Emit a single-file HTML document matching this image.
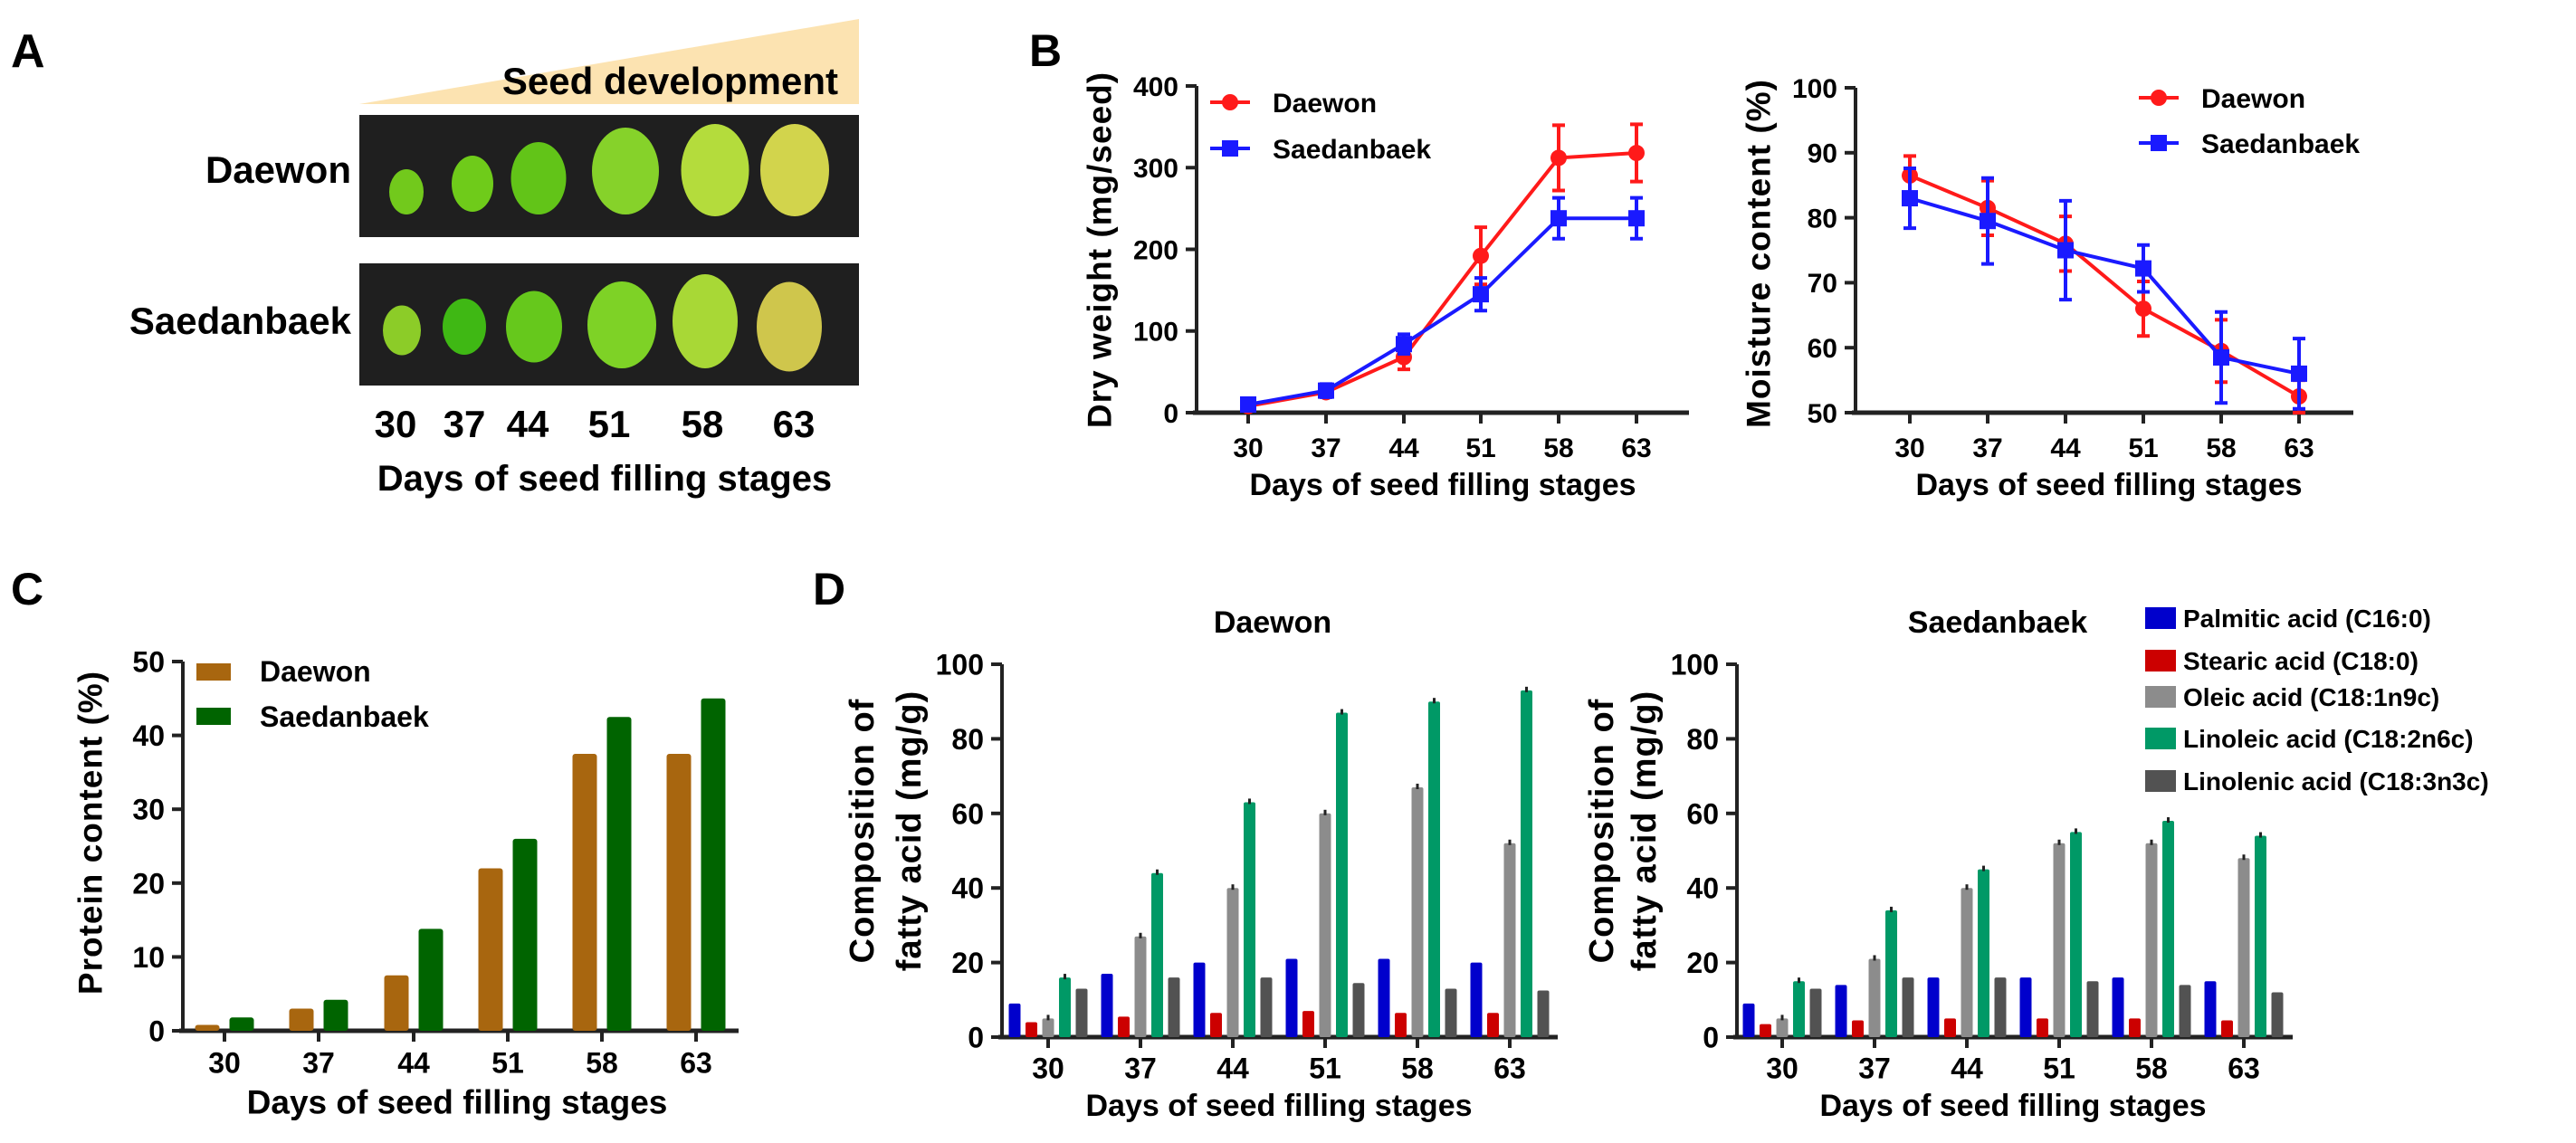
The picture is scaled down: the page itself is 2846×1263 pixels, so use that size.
<!DOCTYPE html>
<html><head><meta charset="utf-8">
<style>
html,body{margin:0;padding:0;background:#fff;}
svg{display:block;font-family:"Liberation Sans",Arial,sans-serif;font-weight:bold;}
</style></head>
<body>
<svg id="fig" width="2846" height="1263" viewBox="0 0 2846 1263" xmlns="http://www.w3.org/2000/svg">
<rect width="2846" height="1263" fill="#fff"/>
<!-- Panel A -->
<g id="panelA">
<text x="12" y="74" font-size="52">A</text>
<polygon points="397,115 949,21 949,115" fill="#fce3b1"/>
<text x="926" y="104" font-size="42" text-anchor="end">Seed development</text>
<rect x="397" y="127" width="552" height="135" fill="#1f1f1f"/>
<rect x="397" y="291" width="552" height="135" fill="#1f1f1f"/>
<text x="388" y="202" font-size="42" text-anchor="end">Daewon</text>
<text x="388" y="369" font-size="42" text-anchor="end">Saedanbaek</text>
<g id="seeds"></g>
<g id="aTicks" font-size="42" text-anchor="middle"></g>
<text x="668" y="542" font-size="40" text-anchor="middle">Days of seed filling stages</text>
</g>
<text x="1137" y="73" font-size="50">B</text>
<text x="12" y="668" font-size="50">C</text>
<text x="898" y="668" font-size="50">D</text>
<g id="dynamic"></g>
</svg>
<script>
// ---------- DATA ----------
const days = ["30","37","44","51","58","63"];
// Panel B: dry weight
const dwDaewon = [8, 25, 68, 192, 312, 318];
const dwDaewonErr = [5, 5, 15, 35, 40, 35];
const dwSaedan = [10, 27, 84, 145, 238, 238];
const dwSaedanErr = [6, 8, 12, 20, 25, 25];
const dwTicks = [0, 100, 200, 300, 400];
// Panel B: moisture
const mcDaewon = [86.5, 81.5, 76, 66, 59.5, 52.5];
const mcDaewonErr = [3, 4.2, 4.2, 4.2, 4.8, 2.5];
const mcSaedan = [83, 79.5, 75, 72.2, 58.5, 56];
const mcSaedanErr = [4.6, 6.6, 7.6, 3.6, 7, 5.4];
const mcTicks = [50, 60, 70, 80, 90, 100];
// Panel C: protein
const protDaewon = [0.8, 3, 7.5, 22, 37.5, 37.5];
const protSaedan = [1.8, 4.2, 13.8, 26, 42.5, 45];
const protTicks = [0, 10, 20, 30, 40, 50];
// Panel D: fatty acids
const faNames = ["Palmitic acid (C16:0)","Stearic acid (C18:0)","Oleic acid (C18:1n9c)","Linoleic acid (C18:2n6c)","Linolenic acid (C18:3n3c)"];
const faDaewonPalmitic = [9, 17, 20, 21, 21, 20];
const faDaewonStearic = [4, 5.5, 6.5, 7, 6.5, 6.5];
const faDaewonOleic = [5, 27, 40, 60, 67, 52];
const faDaewonLinoleic = [16, 44, 63, 87, 90, 93];
const faDaewonLinolenic = [13, 16, 16, 14.5, 13, 12.5];
const faSaedanPalmitic = [9, 14, 16, 16, 16, 15];
const faSaedanStearic = [3.5, 4.5, 5, 5, 5, 4.5];
const faSaedanOleic = [5, 21, 40, 52, 52, 48];
const faSaedanLinoleic = [15, 34, 45, 55, 58, 54];
const faSaedanLinolenic = [13, 16, 16, 15, 14, 12];
const faTicks = [0, 20, 40, 60, 80, 100];

const NS = "http://www.w3.org/2000/svg";
const root = document.getElementById('dynamic');
function mk(tag, attrs, parent, txt){
  const e = document.createElementNS(NS, tag);
  for (const k in attrs) e.setAttribute(k, attrs[k]);
  if (txt !== undefined) e.textContent = txt;
  (parent || root).appendChild(e);
  return e;
}
function grp(name){
  const g = mk('g', {});
  
  
  return g;
}

// ---------- Panel A seeds ----------
const seedG = document.getElementById('seeds');
const seedsD = [[449,212,38,50,'#72c91c'],[522,203,46,62,'#6fcb1a'],[595,197,61,80,'#62c418'],[691,189,74,96,'#86d22a'],[790,188,75,102,'#b4dc3c'],[878,188,76,102,'#d2d44c']];
const seedsS = [[444,365,42,55,'#8ccc28'],[513,361,48,62,'#3fb814'],[590,361,62,79,'#66c81c'],[687,359,76,96,'#7ed226'],[779,355,72,104,'#a8d836'],[872,361,72,99,'#cfc64c']];
[seedsD, seedsS].forEach((arr, r) => arr.forEach((s, i) => {
  const e = mk('ellipse', {cx:s[0], cy:s[1], rx:s[2]/2, ry:s[3]/2, fill:s[4]}, seedG);
  
  
}));
const aTickX = [437, 513, 583, 673, 776, 877];
const aT = document.getElementById('aTicks');
days.forEach((d, i) => {
  const t = mk('text', {x:aTickX[i], y:483}, aT, d);
  
  
});

// ---------- generic axes ----------
function axes(g, o){
  // o: x0, x1, yTop, yBase, vmin, vmax, ticks, tickX, tickFs, ylabX, ylabLines, ylabFs, xTickY, titleY, titleFs, xTickFs
  const ys = v => o.yBase - (v - o.vmin) / (o.vmax - o.vmin) * (o.yBase - o.yTop);
  const ya = mk('line', {x1:o.x0, y1:o.yTop, x2:o.x0, y2:o.yBase, stroke:'#222', 'stroke-width':4}, g);
  
  
  const xa = mk('line', {x1:o.x0 - 4, y1:o.yBase, x2:o.x1, y2:o.yBase, stroke:'#222', 'stroke-width':5}, g);
  
  
  o.ticks.forEach(v => {
    mk('line', {x1:o.x0 - 12, y1:ys(v), x2:o.x0, y2:ys(v), stroke:'#222', 'stroke-width':4}, g);
    const t = mk('text', {x:o.x0 - 20, y:ys(v) + o.tickFs * 0.36, 'font-size':o.tickFs, 'text-anchor':'end'}, g, String(v));
    
    
  });
  o.tickX.forEach((x, i) => {
    mk('line', {x1:x, y1:o.yBase, x2:x, y2:o.yBase + 12, stroke:'#222', 'stroke-width':4}, g);
    const t = mk('text', {x:x, y:o.xTickY + o.xTickFs * 0.36, 'font-size':o.xTickFs, 'text-anchor':'middle'}, g, days[i]);
    
    
  });
  const tt = mk('text', {x:o.titleX, y:o.titleY + o.titleFs * 0.36, 'font-size':o.titleFs, 'text-anchor':'middle'}, g, 'Days of seed filling stages');
  
  
  o.ylabLines.forEach((ln, i) => {
    const x = o.ylabX[i];
    const t = mk('text', {x:x, y:o.ylabY, 'font-size':o.ylabFs, 'text-anchor':'middle', 'letter-spacing':'1', transform:`rotate(-90 ${x} ${o.ylabY})`, 'dominant-baseline':'central'}, g, ln);
    
    
  });
  return ys;
}

// ---------- Panel B line charts ----------
function lineChart(name, o, sA, eA, sB, eB, legX, legY){
  const g = grp(name);
  const ys = axes(g, o);
  const series = [[sA, eA, '#ff1a1a', 'circle', 'Daewon'], [sB, eB, '#1a1aff', 'square', 'Saedanbaek']];
  series.forEach((s, k) => {
    const pts = s[0].map((v, i) => o.tickX[i] + ',' + ys(v)).join(' ');
    const pl = mk('polyline', {points:pts, fill:'none', stroke:s[2], 'stroke-width':4}, g);
    
    
    s[0].forEach((v, i) => {
      const x = o.tickX[i], y1 = ys(v + s[1][i]), y2 = ys(v - s[1][i]);
      const eb = mk('path', {d:`M${x},${y1}V${y2}M${x-7},${y1}H${x+7}M${x-7},${y2}H${x+7}`, stroke:s[2], 'stroke-width':4, fill:'none'}, g);
      
      
      let m;
      if (s[3] === 'circle') m = mk('circle', {cx:x, cy:ys(v), r:9, fill:s[2]}, g);
      else m = mk('rect', {x:x - 9, y:ys(v) - 9, width:18, height:18, fill:s[2]}, g);
      
      
    });
    const ly = legY[k];
    const le = mk('line', {x1:legX - 22, y1:ly, x2:legX + 22, y2:ly, stroke:s[2], 'stroke-width':4}, g);
    
    
    if (s[3] === 'circle') mk('circle', {cx:legX, cy:ly, r:9, fill:s[2]}, g);
    else mk('rect', {x:legX - 9, y:ly - 9, width:18, height:18, fill:s[2]}, g);
    const lt = mk('text', {x:legX + 47, y:ly + 11, 'font-size':30}, g, s[4]);
    
    
  });
}
lineChart('dry-weight-chart', {x0:1322, x1:1866, yTop:95, yBase:456, vmin:0, vmax:400, ticks:dwTicks,
  tickX:[1379,1465,1551,1636,1722,1808], tickFs:30, xTickFs:30, xTickY:494, titleX:1594, titleY:535, titleFs:34,
  ylabX:[1215], ylabY:276, ylabLines:['Dry weight (mg/seed)'], ylabFs:37},
  dwDaewon, dwDaewonErr, dwSaedan, dwSaedanErr, 1359, [113, 164]);
lineChart('moisture-chart', {x0:2050, x1:2600, yTop:97, yBase:456, vmin:50, vmax:100, ticks:mcTicks,
  tickX:[2110,2196,2282,2368,2454,2540], tickFs:30, xTickFs:30, xTickY:494, titleX:2330, titleY:535, titleFs:34,
  ylabX:[1943], ylabY:280, ylabLines:['Moisture content (%)'], ylabFs:37},
  mcDaewon, mcDaewonErr, mcSaedan, mcSaedanErr, 2385, [108, 158]);

// ---------- Panel C ----------
(function(){
  const g = grp('protein-chart');
  const o = {x0:202, x1:816, yTop:731, yBase:1139, vmin:0, vmax:50, ticks:protTicks,
    tickX:[248,352,457,561,665,769], tickFs:32, xTickFs:32, xTickY:1174, titleX:505, titleY:1217, titleFs:37,
    ylabX:[100], ylabY:920, ylabLines:['Protein content (%)'], ylabFs:37};
  const ys = axes(g, o);
  const cols = ['#a8660f', '#006400'];
  const names = ['Daewon', 'Saedanbaek'];
  [protDaewon, protSaedan].forEach((arr, k) => {
    arr.forEach((v, i) => {
      const cx = o.tickX[i] + (k ? 19 : -19);
      const b = mk('rect', {x:cx - 13.5, y:ys(v), width:27, height:o.yBase - ys(v), fill:cols[k], rx:3}, g);
      
      
    });
    const sw = mk('rect', {x:217, y:k ? 782 : 733, width:38, height:19, fill:cols[k]}, g);
    
    
    const t = mk('text', {x:287, y:k ? 803 : 753, 'font-size':32}, g, names[k]);
    
    
  });
})();

// ---------- Panel D ----------
const faColors = ['#0000cc', '#cc0000', '#8c8c8c', '#009966', '#525252'];
function faChart(name, title, titleX, x0, tickX, ylabX, series){
  const g = grp(name);
  const o = {x0:x0, x1:x0 + 614, yTop:734, yBase:1146, vmin:0, vmax:100, ticks:faTicks,
    tickX:tickX, tickFs:32, xTickFs:32, xTickY:1180, titleX:(tickX[0] + tickX[5]) / 2, titleY:1221, titleFs:34,
    ylabX:ylabX, ylabY:918, ylabLines:['Composition of', 'fatty acid (mg/g)'], ylabFs:38};
  const ys = axes(g, o);
  const tt = mk('text', {x:titleX, y:699, 'font-size':34, 'text-anchor':'middle'}, g, title);
  
  
  series.forEach((arr, k) => {
    arr.forEach((v, i) => {
      const cx = tickX[i] + (k - 2) * 18.5;
      const b = mk('rect', {x:cx - 6.5, y:ys(v), width:13, height:o.yBase - ys(v), fill:faColors[k], rx:2}, g);
      
      
      if (k === 3 || k === 2) {
        const e = mk('line', {x1:cx, y1:ys(v) - 4, x2:cx, y2:ys(v) + 2, stroke:'#222', 'stroke-width':3}, g);
        
        
      }
    });
  });
}
faChart('fatty-acid-daewon-chart', 'Daewon', 1406, 1107, [1158,1260,1362,1464,1566,1668], [953, 1005],
  [faDaewonPalmitic, faDaewonStearic, faDaewonOleic, faDaewonLinoleic, faDaewonLinolenic]);
faChart('fatty-acid-saedanbaek-chart', 'Saedanbaek', 2207, 1919, [1969,2071,2173,2275,2377,2479], [1770, 1817],
  [faSaedanPalmitic, faSaedanStearic, faSaedanOleic, faSaedanLinoleic, faSaedanLinolenic]);
(function(){
  const g = grp('fatty-acid-legend');
  const ly = [683, 730, 770, 816, 863];
  faNames.forEach((n, k) => {
    const s = mk('rect', {x:2370, y:ly[k] - 12, width:34, height:24, fill:faColors[k]}, g);
    
    
    const t = mk('text', {x:2412, y:ly[k] + 10, 'font-size':28}, g, n);
    
    
  });
})();
</script>
</body></html>
